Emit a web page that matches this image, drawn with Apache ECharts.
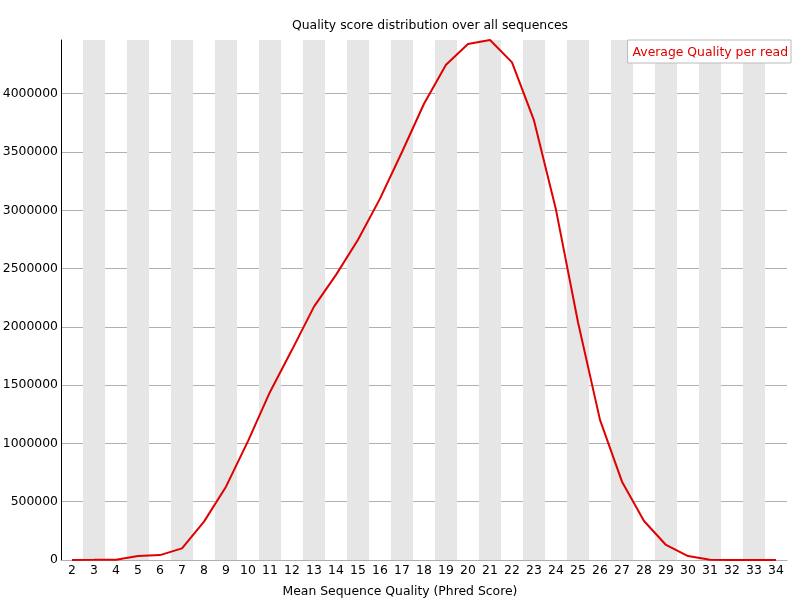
<!DOCTYPE html>
<html>
<head>
<meta charset="utf-8">
<script src="https://cdn.jsdelivr.net/npm/echarts@6/dist/echarts.min.js"></script>
<style>html,body{margin:0;padding:0;background:#fff}#c{width:800px;height:600px}</style>
</head>
<body>
<div id="c"></div>
<script>
var categories = ['2','3','4','5','6','7','8','9','10','11','12','13','14','15','16','17','18','19','20','21','22','23','24','25','26','27','28','29','30','31','32','33','34'];
var avgQuality = [500, 1500, 3000, 35000, 42000, 100000, 329000, 629000, 1020000, 1442000, 1803000, 2174000, 2446000, 2747000, 3100000, 3500000, 3914000, 4249000, 4427000, 4461000, 4269000, 3771000, 3004000, 2040000, 1202000, 672000, 335000, 129000, 34000, 3000, 1000, 600, 300];
var yTicks = [0, 500000, 1000000, 1500000, 2000000, 2500000, 3000000, 3500000, 4000000];

var font = 'DejaVu Sans';
var fs = 12.4;
var chart = echarts.init(document.getElementById('c'), null, {renderer: 'canvas'});
var lineColors = yTicks.map(function(){ return '#b0b0b0'; });
lineColors.push('rgba(0,0,0,0)');
chart.setOption({
  animation: false,
  backgroundColor: '#fff',
  title: {
    text: 'Quality score distribution over all sequences',
    left: 425, top: 15, textAlign: 'center',
    textStyle: {fontFamily: font, fontSize: fs, fontWeight: 'normal', color: '#000'}
  },
  legend: {
    data: ['Average Quality per read'],
    right: 9, top: 40,
    icon: 'rect', itemWidth: 0, itemHeight: 0,
    padding: [7, 3, 4, 0],
    borderColor: '#bbb', borderWidth: 1, borderRadius: 0,
    backgroundColor: '#fff',
    textStyle: {fontFamily: font, fontSize: fs, color: '#e00000'}
  },
  grid: {left: 61, right: 13, top: 40, bottom: 40, containLabel: false, outerBoundsMode: 'none'},
  xAxis: {
    type: 'category',
    data: categories,
    boundaryGap: true,
    name: 'Mean Sequence Quality (Phred Score)',
    nameLocation: 'middle',
    nameGap: 26,
    nameTextStyle: {fontFamily: font, fontSize: fs, color: '#000', padding: [0, 48, 0, 0]},
    axisLine: {show: true, lineStyle: {color: '#b0b0b0', width: 1}},
    axisTick: {show: false},
    axisLabel: {interval: 0, fontFamily: font, fontSize: fs, color: '#000', margin: 5},
    splitLine: {show: false},
    splitArea: {show: true, interval: 0, areaStyle: {color: ['rgba(255,255,255,0)', '#e6e6e6']}}
  },
  yAxis: {
    type: 'value',
    min: 0,
    max: 'dataMax',
    interval: 500000,
    axisLine: {show: true, lineStyle: {color: '#000', width: 1}},
    axisTick: {show: false},
    axisLabel: {fontFamily: font, fontSize: fs, color: '#000', margin: 3, showMaxLabel: false,
      formatter: function (v) { return String(v); }},
    splitLine: {show: true, lineStyle: {color: lineColors, width: 1}}
  },
  series: [{
    name: 'Average Quality per read',
    type: 'line',
    data: avgQuality,
    symbol: 'none',
    lineStyle: {color: '#e00000', width: 2},
    itemStyle: {color: '#e00000'},
    z: 5
  }]
});
</script>
</body>
</html>
